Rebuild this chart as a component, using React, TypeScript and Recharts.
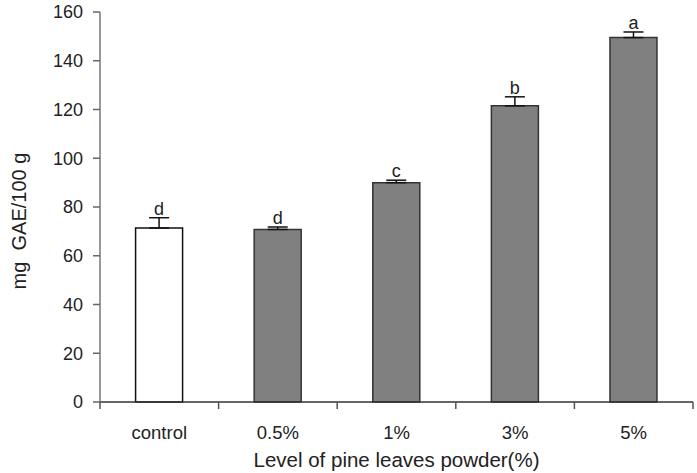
import React from 'react';
import { BarChart, Bar, XAxis, YAxis, ErrorBar, Cell, LabelList, Label } from 'recharts';

const levels = ['control', '0.5%', '1%', '3%', '5%'];
const phenolics = [71.4, 70.8, 90.0, 121.5, 149.5];
const errors = [4.2, 1.0, 1.0, 3.7, 2.3];
const letters = ['d', 'd', 'c', 'b', 'a'];
const yTicks = [0, 20, 40, 60, 80, 100, 120, 140, 160];

const data = levels.map((level, i) => ({
  level,
  value: phenolics[i],
  err: [0, errors[i]],
  letter: letters[i],
}));

const FONT = '"Liberation Sans", Arial, sans-serif';
const INK = '#222222';

// x ticks sit between the categories, labels in the middle
const XTick = (props: any) => {
  const { x, y, payload, index } = props;
  const half = payload?.offset ?? 0;
  return (
    <g>
      {index === 0 && <line x1={x - half} x2={x - half} y1={y} y2={y + 7} stroke="#555" strokeWidth={1.5} />}
      <line x1={x + half} x2={x + half} y1={y} y2={y + 7} stroke="#555" strokeWidth={1.5} />
      <text x={x} y={y + 37} textAnchor="middle" fontSize={18.5} fontFamily={FONT} fill={INK}>
        {payload.value}
      </text>
    </g>
  );
};

const LetterLabel = (props: any) => {
  const { x, y, width, height, value, index } = props;
  const v = phenolics[index];
  const errTop = y - (errors[index] * height) / v;
  return (
    <text x={x + width / 2} y={errTop - 3} textAnchor="middle" fontSize={18} fontFamily={FONT} fill={INK}>
      {value}
    </text>
  );
};

export default function App() {
  return (
    <div style={{ position: 'absolute', left: 0, top: 0, background: '#fff' }}>
      <BarChart
        width={697}
        height={473}
        data={data}
        margin={{ top: 12, right: 4, bottom: 0, left: 0 }}
        barCategoryGap="30%"
      >
        <XAxis
          dataKey="level"
          height={71}
          tickLine={false}
          tickSize={0}
          tickMargin={0}
          axisLine={{ stroke: '#333', strokeWidth: 1.5 }}
          tick={<XTick />}
          interval={0}
        >
          <Label
            content={(p: any) => {
              const vb = p.viewBox;
              return (
                <text
                  x={vb.x + vb.width / 2}
                  y={vb.y + 65}
                  textAnchor="middle"
                  fontSize={20.5}
                  fontFamily={FONT}
                  fill={INK}
                >
                  Level of pine leaves powder(%)
                </text>
              );
            }}
          />
        </XAxis>
        <YAxis
          width={100}
          domain={[0, 160]}
          ticks={yTicks}
          tickSize={7}
          tickMargin={10}
          tick={{ fontSize: 18, fontFamily: FONT, fill: INK }}
          tickLine={{ stroke: '#666', strokeWidth: 1.5 }}
          axisLine={{ stroke: '#777', strokeWidth: 1.5 }}
        >
          <Label
            content={(p: any) => {
              const vb = p.viewBox;
              const cx = 19;
              const cy = vb.y + vb.height / 2 + 14;
              return (
                <text
                  x={cx}
                  y={cy}
                  transform={`rotate(-90, ${cx}, ${cy})`}
                  textAnchor="middle"
                  dominantBaseline="central"
                  fontSize={20}
                  fontFamily={FONT}
                  fill={INK}
                  style={{ whiteSpace: 'pre' }}
                >
                  {'mg  GAE/100 g'}
                </text>
              );
            }}
          />
        </YAxis>
        <Bar dataKey="value" stroke="#333" strokeWidth={1.5} isAnimationActive={false}>
          {data.map((d, i) => (
            <Cell key={d.level} fill={i === 0 ? '#ffffff' : '#808080'} stroke={i === 0 ? '#111' : '#333'} />
          ))}
          <ErrorBar dataKey="err" direction="y" width={10} stroke="#111" strokeWidth={1.5} isAnimationActive={false} />
          <LabelList dataKey="letter" content={<LetterLabel />} />
        </Bar>
      </BarChart>
    </div>
  );
}
